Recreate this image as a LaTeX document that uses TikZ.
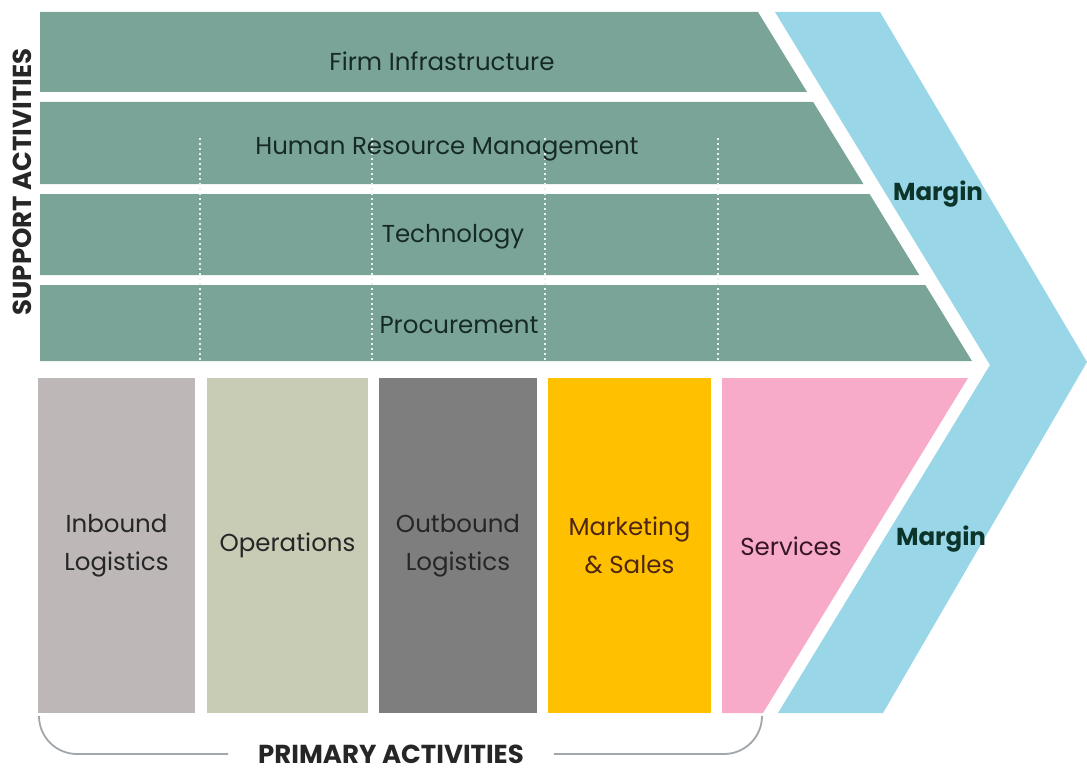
\documentclass[tikz,border=0pt]{standalone}
\usepackage{fontspec}
\setsansfont{Poppins}
\usetikzlibrary{calc,positioning}
\definecolor{barteal}{RGB}{123,164,152}
\definecolor{marginblue}{RGB}{153,214,232}
\definecolor{inboundgrey}{RGB}{189,183,184}
\definecolor{opsgreen}{RGB}{201,204,181}
\definecolor{outgrey}{RGB}{126,126,126}
\definecolor{mktyellow}{RGB}{255,192,0}
\definecolor{servpink}{RGB}{248,171,200}
\definecolor{bracegrey}{RGB}{160,166,170}
\definecolor{bardark}{RGB}{22,42,37}
\definecolor{mktbrown}{RGB}{78,38,18}
\definecolor{servdark}{RGB}{52,22,36}
\definecolor{margindark}{RGB}{12,52,42}
\tikzset{
  every node/.style={font=\sffamily},
  bar/.style={fill=barteal},
  divider/.style={draw=white!85!barteal, line width=1.2pt, dash pattern=on 2pt off 3pt},
  bar label/.style={text=bardark, font=\sffamily\fontsize{24.5}{28}\selectfont, anchor=base},
  box/.style={minimum height=335pt, inner sep=0pt, align=center, text=black!85,
    font=\sffamily\fontsize{24.5}{38}\selectfont},
  margin label/.style={text=margindark, font=\sffamily\bfseries\fontsize{24.5}{28}\selectfont, anchor=base},
  side label/.style={text=black!85, font=\sffamily\bfseries\fontsize{26}{30}\selectfont},
  brace/.style={draw=bracegrey, line width=1.8pt, rounded corners=38pt}
}

\begin{document}
\begin{tikzpicture}[x=1pt,y=-1pt]
  \useasboundingbox (0,0) rectangle (1087,773);

  % margin chevron
  \fill[marginblue] (775,12) -- (880,12) -- (1087,362) -- (883,713) -- (778,713)
    -- (990,365) -- cycle;

  % support activity bars
  \foreach \t/\b in {12/92,102/184,194/275,285/361} {
    \fill[bar] (40,\t) -- ({758+0.613*(\t-12)},\t) -- ({758+0.613*(\b-12)},\b)
      -- (40,\b) -- cycle;
  }
  \foreach \x in {200,372,545,718} {
    \draw[divider] (\x,138) -- (\x,361);
  }

  \node[bar label] (firm) at (442,71) {Firm Infrastructure};
  \node[bar label] (hrm) at (447,155) {Human Resource Management};
  \node[bar label] (tech) at (453,242) {Technology};
  \node[bar label] (proc) at (459,333) {Procurement};

  % primary activities
  \node[box, fill=inboundgrey, minimum width=157pt] (inbound) at (116.5,545.5) {Inbound\\Logistics};
  \node[box, fill=opsgreen, minimum width=161pt] (ops) at (287.5,545.5) {Operations};
  \node[box, fill=outgrey, minimum width=158pt] (outbound) at (458,545.5) {Outbound\\Logistics};
  \node[box, fill=mktyellow, minimum width=163pt, text=mktbrown] (mkt) at (629.5,545.5) {Marketing\\\& Sales};

  \fill[servpink] (722,378) -- (968,378) -- (763,713) -- (722,713) -- cycle;
  \node[box, minimum height=0pt, text=servdark] (serv) at (791,546) {Services};

  \node[margin label] (margin1) at (938,200) {Margin};
  \node[margin label] (margin2) at (941,545) {Margin};

  % side labels
  \node[side label, rotate=90] (support) at (22,182) {SUPPORT ACTIVITIES};
  \node[side label, text height=19pt, text depth=0pt, inner ysep=0pt, inner xsep=30pt]
    (prim) at (391,754) {PRIMARY ACTIVITIES};

  \coordinate (bl) at (39,716);
  \coordinate (br) at (762,716);
  \draw[brace] (bl) |- (prim.west);
  \draw[brace] (br) |- (prim.east);

\end{tikzpicture}
\end{document}
